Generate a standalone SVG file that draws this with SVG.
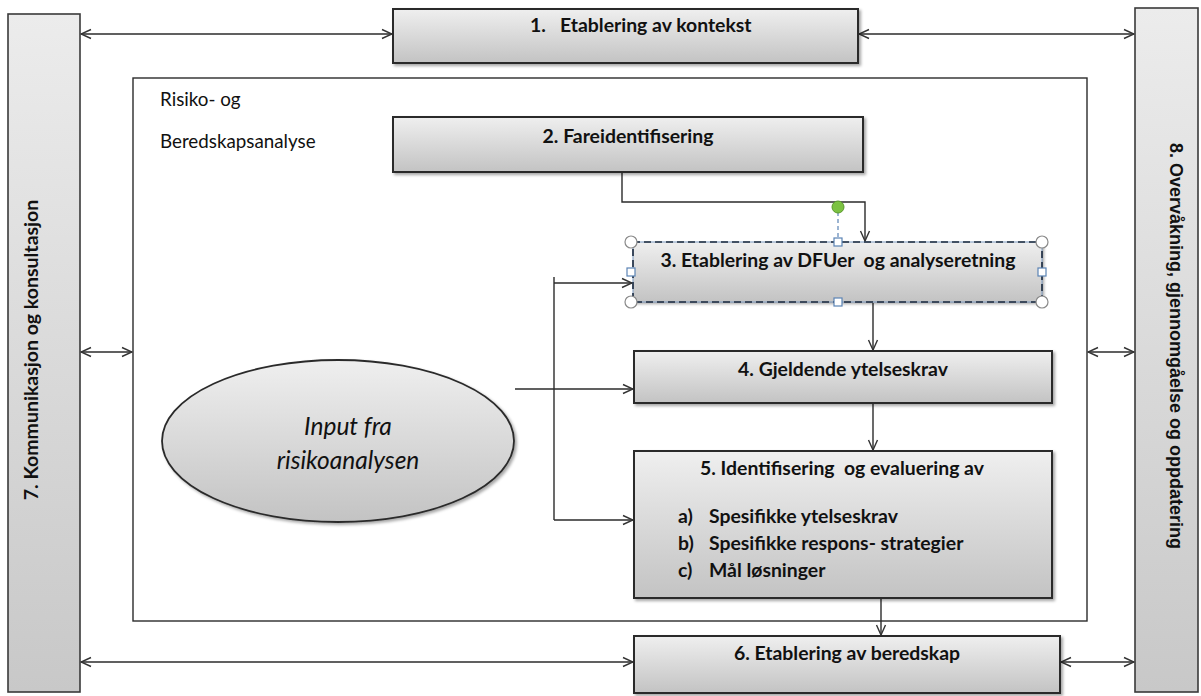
<svg xmlns="http://www.w3.org/2000/svg" width="1201" height="696" viewBox="0 0 1201 696">
  <defs>
    <linearGradient id="boxFill" x1="0" y1="0" x2="0" y2="1">
      <stop offset="0" stop-color="#efefef"/>
      <stop offset="1" stop-color="#c3c3c3"/>
    </linearGradient>
    <linearGradient id="barFill" x1="0" y1="0" x2="0" y2="1">
      <stop offset="0" stop-color="#ececec"/>
      <stop offset="1" stop-color="#c8c8c8"/>
    </linearGradient>
    <filter id="shadow" x="-5%" y="-10%" width="112%" height="130%">
      <feDropShadow dx="2" dy="2" stdDeviation="1.5" flood-color="#000" flood-opacity="0.35"/>
    </filter>
    <marker id="arrow" viewBox="0 0 12 12" refX="11" refY="6" markerWidth="12" markerHeight="12" markerUnits="userSpaceOnUse" orient="auto-start-reverse">
      <path d="M1,1.5 L11,6 L1,10.5" fill="none" stroke="#333" stroke-width="1.4"/>
    </marker>
    <style>
      .box { fill: url(#boxFill); stroke: #2b2b2b; stroke-width: 2; filter: url(#shadow); }
      .bar { fill: url(#barFill); stroke: #3a3a3a; stroke-width: 1.6; }
      .frame { fill: #fff; stroke: #2b2b2b; stroke-width: 1.4; }
      .line { fill: none; stroke: #2b2b2b; stroke-width: 1.4; }
      .arr { marker-end: url(#arrow); }
      .dbl { marker-start: url(#arrow); marker-end: url(#arrow); }
      .title { font-family: Lato, "Liberation Sans", sans-serif; font-weight: bold; font-size: 19.4px; fill: #111; white-space: pre; }
      .plain { font-family: Lato, "Liberation Sans", sans-serif; font-size: 18.8px; fill: #111; }
      .ital { font-family: Lato, "Liberation Sans", sans-serif; font-style: italic; font-size: 24.5px; fill: #111; }
      .side { font-family: "Liberation Sans", Arial, sans-serif; font-weight: bold; font-size: 18px; fill: #111; }
      .handle { fill: #fff; stroke: #8a8a8a; stroke-width: 1.2; }
      .sq { fill: #fff; stroke: #5b84b5; stroke-width: 1.2; }
    </style>
  </defs>

  <rect width="1201" height="696" fill="#fff"/>

  <!-- risk and preparedness analysis frame -->
  <g id="frame">
    <rect class="frame" x="133" y="78" width="954" height="543"/>
    <text class="plain" x="160" y="106">Risiko- og</text>
    <text class="plain" x="160" y="148">Beredskapsanalyse</text>
  </g>

  <!-- connectors -->
  <g id="connectors">
    <line class="line dbl" x1="81" y1="34" x2="392" y2="34"/>
    <line class="line dbl" x1="859" y1="34" x2="1134" y2="34"/>
    <line class="line dbl" x1="81" y1="352" x2="132" y2="352"/>
    <line class="line dbl" x1="1088" y1="352" x2="1134" y2="352"/>
    <line class="line dbl" x1="81" y1="662" x2="633" y2="662"/>
    <line class="line dbl" x1="1061" y1="662" x2="1134" y2="662"/>
    <polyline class="line arr" points="622,172 622,202 865,202 865,241"/>
    <line class="line" x1="554" y1="277" x2="554" y2="520"/>
    <line class="line arr" x1="554" y1="283" x2="632" y2="283"/>
    <line class="line arr" x1="515" y1="389" x2="633" y2="389"/>
    <line class="line arr" x1="554" y1="520" x2="633" y2="520"/>
    <line class="line arr" x1="873" y1="303" x2="873" y2="350"/>
    <line class="line arr" x1="873" y1="404" x2="873" y2="450"/>
    <line class="line arr" x1="881" y1="599" x2="881" y2="635"/>
  </g>

  <!-- 7: communication side bar -->
  <g id="node7">
    <rect class="bar" x="8" y="14" width="72" height="678"/>
    <text class="side" transform="translate(38,350) rotate(-90)" text-anchor="middle" style="font-family: Lato, 'Liberation Sans', sans-serif; font-size: 19.5px">7. Kommunikasjon og konsultasjon</text>
  </g>

  <!-- 8: monitoring side bar -->
  <g id="node8">
    <rect class="bar" x="1135" y="8" width="63" height="684"/>
    <text class="side" transform="translate(1170,346) rotate(90)" text-anchor="middle">8. Overvåkning, gjennomgåelse og oppdatering</text>
  </g>

  <!-- 1: context -->
  <g id="node1">
    <rect class="box" x="393" y="9" width="465" height="54"/>
    <text class="title" x="530" y="32">1.</text>
    <text class="title" x="560" y="32">Etablering av kontekst</text>
  </g>

  <!-- 2: hazard identification -->
  <g id="node2">
    <rect class="box" x="393" y="117" width="470" height="55"/>
    <text class="title" x="628" y="143" text-anchor="middle">2. Fareidentifisering</text>
  </g>

  <!-- 3: selected box with handles -->
  <g id="node3">
    <rect class="box" x="633" y="242" width="409" height="60" style="stroke:none"/>
    <rect x="633" y="242" width="409" height="60" fill="none" stroke="#7f9cc2" stroke-width="1"/>
    <rect x="633" y="242" width="409" height="60" fill="none" stroke="#1c2a3d" stroke-width="1.6" stroke-dasharray="7 4"/>
    <text class="title" x="838" y="267" text-anchor="middle">3. Etablering av DFUer  og analyseretning</text>
    <line x1="838" y1="212" x2="838" y2="238" stroke="#5b84b5" stroke-width="1.2" stroke-dasharray="4 3"/>
    <circle cx="838" cy="207" r="6" fill="#7cc242" stroke="#5a9a2c" stroke-width="1"/>
    <circle class="handle" cx="631" cy="242" r="6"/>
    <circle class="handle" cx="1042" cy="242" r="6"/>
    <circle class="handle" cx="631" cy="302" r="6"/>
    <circle class="handle" cx="1042" cy="302" r="6"/>
    <rect class="sq" x="834" y="238" width="8" height="8"/>
    <rect class="sq" x="834" y="298" width="8" height="8"/>
    <rect class="sq" x="627" y="268" width="8" height="8"/>
    <rect class="sq" x="1038" y="268" width="8" height="8"/>
  </g>

  <!-- 4: applicable performance requirements -->
  <g id="node4">
    <rect class="box" x="634" y="351" width="418" height="52"/>
    <text class="title" x="843" y="376" text-anchor="middle">4. Gjeldende ytelseskrav</text>
  </g>

  <!-- 5: identification and evaluation -->
  <g id="node5">
    <rect class="box" x="634" y="451" width="418" height="147"/>
    <text class="title" x="842" y="475" text-anchor="middle">5. Identifisering  og evaluering av</text>
    <text class="title" x="678" y="523">a)</text>
    <text class="title" x="709" y="523">Spesifikke ytelseskrav</text>
    <text class="title" x="678" y="550">b)</text>
    <text class="title" x="709" y="550">Spesifikke respons- strategier</text>
    <text class="title" x="678" y="577">c)</text>
    <text class="title" x="709" y="577">Mål løsninger</text>
  </g>

  <!-- 6: preparedness -->
  <g id="node6">
    <rect class="box" x="634" y="636" width="426" height="57"/>
    <text class="title" x="847" y="660" text-anchor="middle">6. Etablering av beredskap</text>
  </g>

  <!-- input from risk analysis -->
  <g id="input">
    <ellipse cx="338" cy="441" rx="176" ry="81" fill="url(#boxFill)" stroke="#2b2b2b" stroke-width="1.8" filter="url(#shadow)"/>
    <text class="ital" x="348" y="435" text-anchor="middle">Input fra</text>
    <text class="ital" x="348" y="469" text-anchor="middle">risikoanalysen</text>
  </g>
</svg>
